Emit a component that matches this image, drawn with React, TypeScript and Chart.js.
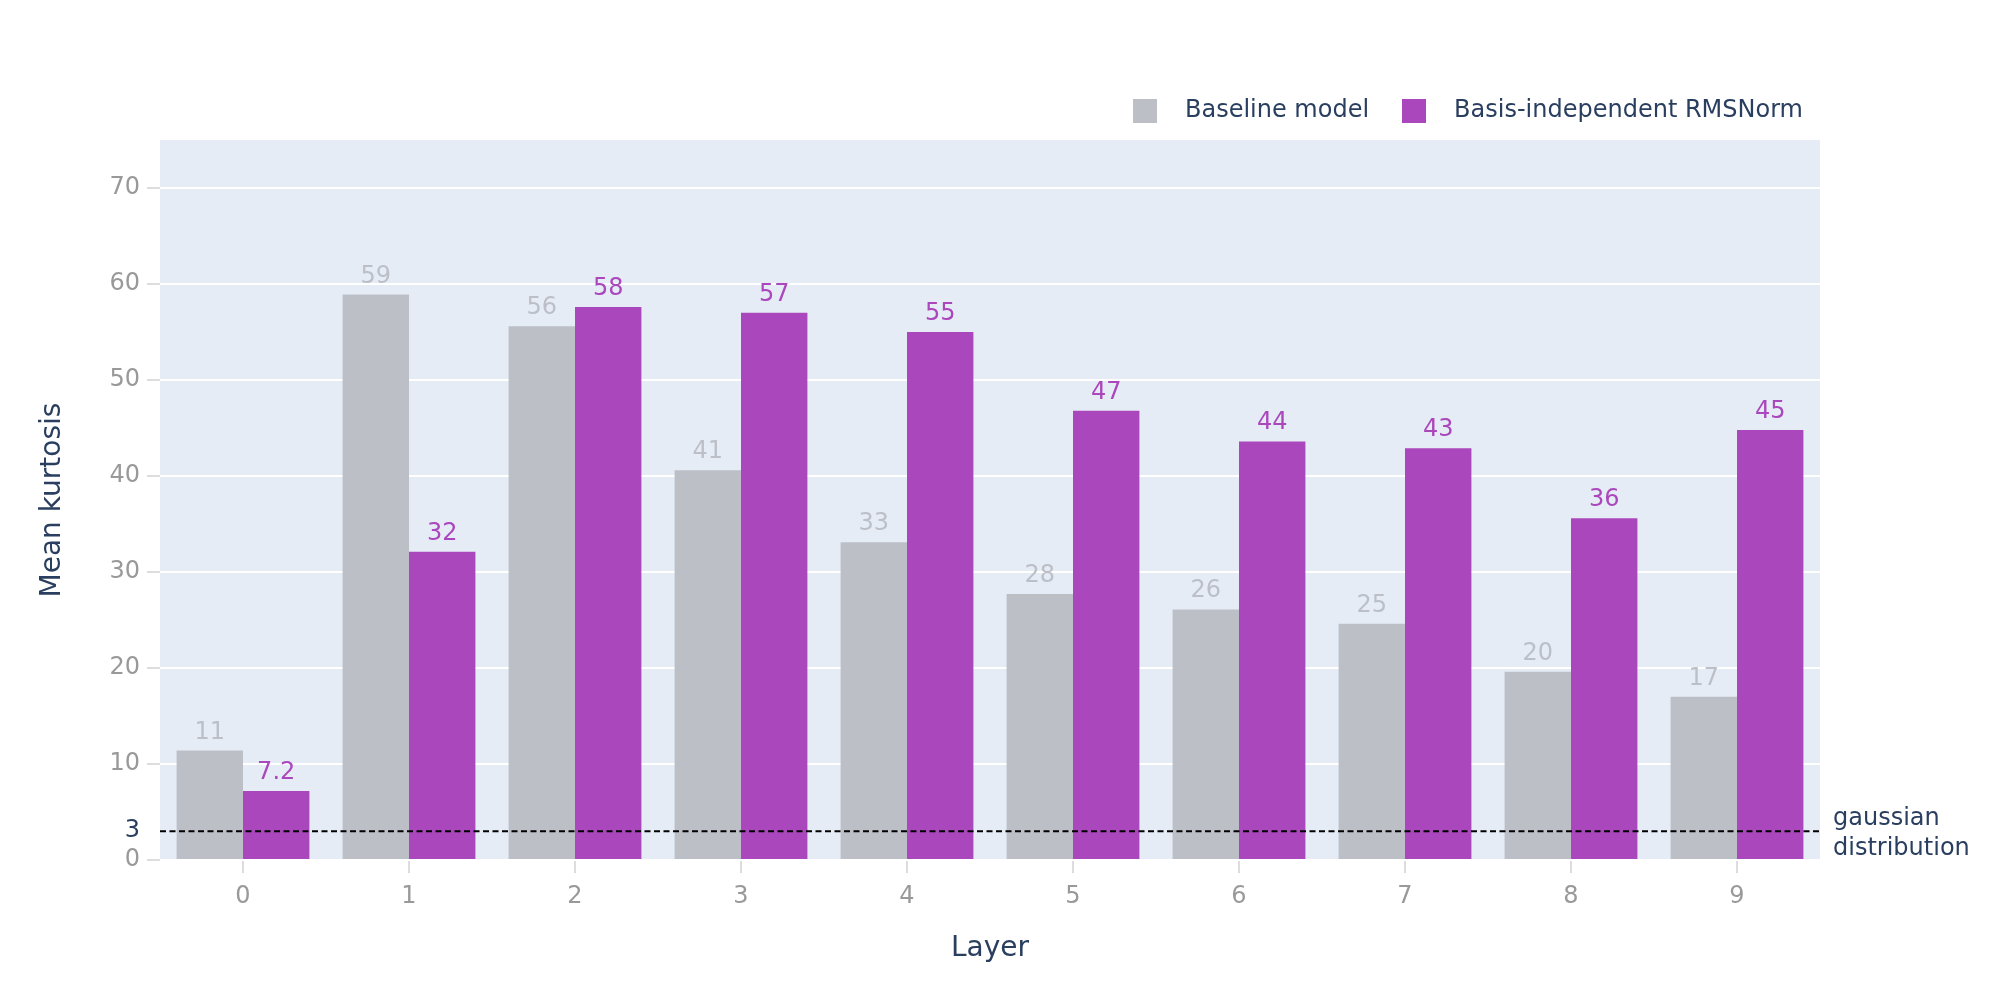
import { useEffect, useRef } from "react"
import { Chart, registerables } from "chart.js"

Chart.register(...registerables)

// layer indices on the x axis
const layers = ["0", "1", "2", "3", "4", "5", "6", "7", "8", "9"]

// mean kurtosis per layer
const baselineKurtosis = [11.4, 58.9, 55.6, 40.6, 33.1, 27.7, 26.1, 24.6, 19.6, 17.0]
const rmsNormKurtosis = [7.2, 32.1, 57.6, 57.0, 55.0, 46.8, 43.6, 42.9, 35.6, 44.8]

const seriesNames = ["Baseline model", "Basis-independent RMSNorm"]
const seriesColors = ["#bdbfc7", "#ab47bc"]

const yTickValues = [0, 3, 10, 20, 30, 40, 50, 60, 70]
const gaussianKurtosis = 3
const gaussianLabel = ["gaussian", "distribution"]

const FONT = "'DejaVu Sans', sans-serif"
const TITLE_COLOR = "#2a3f5f"
const TICK_COLOR = "#999999"

const fmt = (v: number) => String(Number(v.toPrecision(2)))

const makeSwatch = (color: string) => {
  const c = document.createElement("canvas")
  c.width = 24
  c.height = 24
  const g = c.getContext("2d")
  if (g) {
    g.fillStyle = color
    g.fillRect(0, 0, 24, 24)
  }
  return c
}

const plotBackground = {
  id: "plotBackground",
  beforeDraw(chart: Chart) {
    const { ctx, chartArea } = chart
    ctx.save()
    ctx.fillStyle = "#e5ecf6"
    ctx.fillRect(chartArea.left, chartArea.top, chartArea.right - chartArea.left, chartArea.bottom - chartArea.top)
    ctx.restore()
  },
}

// value labels above bars + the dashed gaussian reference line
const barLabels = {
  id: "barLabels",
  afterDatasetsDraw(chart: Chart) {
    const { ctx, chartArea } = chart
    ctx.save()
    ctx.font = `24px ${FONT}`
    ctx.textAlign = "center"
    ctx.textBaseline = "alphabetic"
    ;[0, 1].forEach((di) => {
      const meta = chart.getDatasetMeta(di)
      const values = chart.data.datasets[di].data as number[]
      ctx.fillStyle = seriesColors[di]
      meta.data.forEach((bar: any, i: number) => {
        ctx.fillText(fmt(values[i]), bar.x, bar.y - 12)
      })
    })

    const y = chart.scales.y.getPixelForValue(gaussianKurtosis)
    ctx.strokeStyle = "#000000"
    ctx.lineWidth = 2
    ctx.setLineDash([6, 3.5])
    ctx.beginPath()
    ctx.moveTo(chartArea.left, y)
    ctx.lineTo(chartArea.right, y)
    ctx.stroke()
    ctx.restore()
  },
}

const gaussianText = {
  id: "gaussianText",
  afterDraw(chart: Chart) {
    const { ctx, chartArea } = chart
    const y = chart.scales.y.getPixelForValue(gaussianKurtosis)
    ctx.save()
    ctx.font = `24px ${FONT}`
    ctx.fillStyle = TITLE_COLOR
    ctx.textAlign = "left"
    ctx.textBaseline = "alphabetic"
    ctx.fillText(gaussianLabel[0], chartArea.right + 13, y - 6)
    ctx.fillText(gaussianLabel[1], chartArea.right + 13, y + 24)
    ctx.restore()
  },
}

function KurtosisChart() {
  const chartRef = useRef<HTMLCanvasElement>(null)
  const chartInstance = useRef<Chart | null>(null)

  useEffect(() => {
    if (!chartRef.current) return
    if (chartInstance.current) chartInstance.current.destroy()
    const ctx = chartRef.current.getContext("2d")
    if (!ctx) return

    const swatches = seriesColors.map(makeSwatch)

    chartInstance.current = new Chart(ctx, {
      type: "bar",
      data: {
        labels: layers,
        datasets: [
          {
            label: seriesNames[0],
            data: baselineKurtosis,
            backgroundColor: seriesColors[0],
            categoryPercentage: 0.8,
            barPercentage: 1.0,
          },
          {
            label: seriesNames[1],
            data: rmsNormKurtosis,
            backgroundColor: seriesColors[1],
            categoryPercentage: 0.8,
            barPercentage: 1.0,
          },
        ],
      },
      options: {
        responsive: true,
        maintainAspectRatio: false,
        animation: false,
        devicePixelRatio: 1,
        font: { family: FONT, size: 24 },
        layout: { padding: { top: 82, right: 180, bottom: 0, left: 0 } },
        scales: {
          x: {
            type: "category",
            offset: true,
            grid: {
              offset: false,
              drawOnChartArea: false,
              tickLength: 13,
              tickColor: "#dddddd",
              lineWidth: 2,
            },
            border: { display: false },
            ticks: { color: TICK_COLOR, font: { family: FONT, size: 24 }, padding: 9 },
            title: {
              display: true,
              text: "Layer",
              color: TITLE_COLOR,
              font: { family: FONT, size: 28 },
              padding: { top: 0, bottom: 34 },
            },
            afterFit: (scale: any) => {
              scale.height = 140
            },
          },
          // empty strip between legend and plot
          xTop: {
            type: "category",
            position: "top",
            display: true,
            grid: { display: false },
            border: { display: false },
            ticks: { display: false },
            afterFit: (scale: any) => {
              scale.height = 7
            },
          },
          y: {
            type: "linear",
            min: 0,
            max: 75,
            grid: {
              color: (c: any) => (c.tick && c.tick.value === gaussianKurtosis ? "rgba(0,0,0,0)" : "#ffffff"),
              tickColor: (c: any) => (c.tick && c.tick.value === gaussianKurtosis ? "rgba(0,0,0,0)" : "#dddddd"),
              lineWidth: 2,
              tickLength: 13,
            },
            border: { display: false },
            ticks: {
              color: (c: any) => (c.tick && c.tick.value === gaussianKurtosis ? TITLE_COLOR : TICK_COLOR),
              font: { family: FONT, size: 24 },
              padding: 7,
            },
            afterBuildTicks: (scale: any) => {
              scale.ticks = yTickValues.map((value) => ({ value }))
            },
            title: {
              display: true,
              text: "Mean kurtosis",
              color: TITLE_COLOR,
              font: { family: FONT, size: 28 },
              padding: { top: 36, bottom: 0 },
            },
            afterFit: (scale: any) => {
              scale.width = 160
            },
          },
        },
        plugins: {
          legend: {
            position: "top",
            align: "end",
            labels: {
              usePointStyle: true,
              pointStyleWidth: 56,
              boxHeight: 24,
              padding: 17,
              color: TITLE_COLOR,
              font: { family: FONT, size: 24 },
              generateLabels: (chart: Chart) =>
                chart.data.datasets.map((ds, i) => ({
                  text: ds.label as string,
                  pointStyle: swatches[i],
                  fillStyle: seriesColors[i],
                  strokeStyle: "rgba(0,0,0,0)",
                  lineWidth: 0,
                  fontColor: TITLE_COLOR,
                  hidden: false,
                  datasetIndex: i,
                })) as any,
            },
          },
          tooltip: { enabled: false },
        },
      },
      plugins: [plotBackground, barLabels, gaussianText],
    })

    return () => {
      if (chartInstance.current) {
        chartInstance.current.destroy()
        chartInstance.current = null
      }
    }
  }, [])

  return (
    <div style={{ position: "fixed", left: 0, top: 0, width: 2000, height: 1000, background: "#ffffff" }}>
      <canvas ref={chartRef} />
    </div>
  )
}

export default function App() {
  return <KurtosisChart />
}
